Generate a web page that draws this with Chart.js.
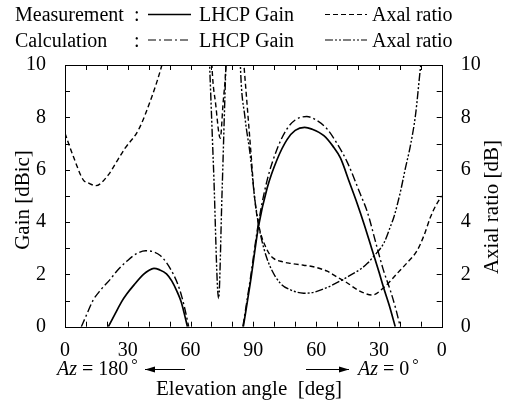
<!DOCTYPE html>
<html>
<head>
<meta charset="utf-8">
<script src="https://cdn.jsdelivr.net/npm/chart.js@4.4.0/dist/chart.umd.min.js"></script>
<style>
  html, body { margin: 0; padding: 0; background: #fff; }
  canvas { display: block; }
</style>
</head>
<body>
<canvas id="c" width="505" height="404"></canvas>
<script>
// x position runs 0..180 : elevation 0 -> 90 (Az = 180°) then 90 -> 0 (Az = 0°)
const xTickLabels = ['0', '30', '60', '90', '60', '30', '0'];
const yTickLabels = ['0', '2', '4', '6', '8', '10'];

// Measurement LHCP gain (solid)
const measGainPos = [20.7, 24, 27, 29.5, 33, 37.5, 40, 42.5, 45, 48.5, 51, 53.5, 55.5, 57, 58.5,
  70,
  85.2, 88.6, 92.5, 96.6, 101.4, 106.1, 110, 114.5, 118, 123.7, 128, 131.6, 136, 139.6, 143, 146.5, 150, 152.4, 155, 157.8];
const measGainVal = [0, 0.5, 0.95, 1.25, 1.6, 2.0, 2.15, 2.23, 2.18, 2.02, 1.75, 1.35, 0.95, 0.5, 0,
  null,
  0, 1.7, 3.85, 5.3, 6.4, 7.15, 7.5, 7.62, 7.55, 7.3, 6.9, 6.45, 5.5, 4.71, 3.9, 3.0, 2.1, 1.45, 0.8, 0];

// Measurement axial ratio (dashed)
const measARPos = [0, 4, 8.8, 11, 14.8, 20.7, 25, 28.7, 35.1, 41.5, 46.3, 47.5,
  60,
  69.8, 70.2, 72, 74.2, 75.5, 76.9, 77.3,
  80,
  85, 85.5, 88.6, 90.5, 92.5, 96.6, 99.7, 103, 107.7, 114, 118.1, 125.3, 130, 134, 140.4, 146.8, 152.4, 158.8, 163, 168.4, 171.6, 174.7, 177, 180];
const measARVal = [7.39, 6.5, 5.6, 5.5, 5.39, 5.8, 6.35, 6.82, 7.52, 8.79, 10, 10.4,
  null,
  11, 10, 8.5, 7.2, 8.5, 10, 11,
  null,
  10.5, 10, 6.9, 5.0, 3.9, 2.93, 2.61, 2.5, 2.42, 2.35, 2.3, 2.12, 1.9, 1.72, 1.38, 1.21, 1.5, 2.04, 2.4, 2.93, 3.5, 4.2, 4.6, 5.0];

// Calculation LHCP gain (dash-dot)
const calcGainPos = [7.8, 10, 13.5, 17, 21.5, 25, 29.5, 34, 38.5, 42, 45.5, 48.5, 51.8, 54, 55.8, 57.5, 59.1,
  70,
  85, 88.5, 92.5, 96.6, 101.4, 106, 110, 115.5, 120, 125.3, 130, 134.8, 141.2, 144.4, 149.2, 152, 155.6, 158, 160.2];
const calcGainVal = [0, 0.4, 1.02, 1.4, 1.8, 2.15, 2.5, 2.78, 2.9, 2.87, 2.72, 2.45, 2.0, 1.6, 1.15, 0.6, 0,
  null,
  0, 1.8, 4.0, 5.6, 6.8, 7.55, 7.9, 8.03, 7.9, 7.55, 7.0, 6.3, 5.05, 4.4, 3.0, 2.2, 1.35, 0.7, 0];

// Calculation axial ratio (dash-dot-dot)
const calcARPos = [68.6, 69.1, 71, 73.4, 75, 76.9, 77.4,
  80,
  83.5, 83.8, 86, 88.6, 90.5, 92.5, 95, 98, 102.9, 108, 114, 118, 125.3, 131.6, 136, 141.2, 144.5, 147.6, 152.4, 155.6, 157.2, 160.4, 162.5, 165, 167.5, 170, 170.5];
const calcARVal = [11, 10, 6, 1.08, 5, 10, 11,
  null,
  11, 10, 8, 6.5, 5.0, 3.9, 3.0, 2.3, 1.66, 1.4, 1.28, 1.3, 1.5, 1.75, 1.95, 2.2, 2.42, 2.7, 3.2, 3.85, 4.2, 5.2, 6.0, 6.9, 8.1, 10, 10.3];

const toPts = (xs, ys) => xs.map((x, i) => ({ x: x, y: ys[i] }));

const FONT = '"Liberation Serif", "Times New Roman", "DejaVu Serif", serif';
Chart.defaults.font.family = FONT;
Chart.defaults.color = '#000';

const frameAndText = {
  id: 'frameAndText',
  afterDraw(chart) {
    const ctx = chart.ctx;
    const a = chart.chartArea;
    const xs = chart.scales.x, ys = chart.scales.y, ys2 = chart.scales.y2;
    ctx.save();
    ctx.strokeStyle = '#000';
    ctx.lineWidth = 1;
    ctx.setLineDash([]);
    // frame
    ctx.strokeRect(Math.round(a.left) + 0.5, Math.round(a.top) + 0.5,
      Math.round(a.right) - Math.round(a.left), Math.round(a.bottom) - Math.round(a.top));
    // inward tick marks
    const tl = 5;
    ctx.beginPath();
    xs.ticks.forEach(t => {
      const px = Math.round(xs.getPixelForValue(t.value)) + 0.5;
      ctx.moveTo(px, a.bottom); ctx.lineTo(px, a.bottom - tl);
      ctx.moveTo(px, a.top); ctx.lineTo(px, a.top + tl);
    });
    ys.ticks.forEach(t => {
      const py = Math.round(ys.getPixelForValue(t.value)) + 0.5;
      ctx.moveTo(a.left, py); ctx.lineTo(a.left + tl, py);
    });
    ys2.ticks.forEach(t => {
      const py = Math.round(ys2.getPixelForValue(t.value)) + 0.5;
      ctx.moveTo(a.right, py); ctx.lineTo(a.right - tl, py);
    });
    ctx.stroke();

    // legend
    ctx.fillStyle = '#000';
    ctx.textBaseline = 'alphabetic';
    ctx.textAlign = 'left';
    ctx.font = '20px ' + FONT;
    const rows = [
      { y: 21, name: 'Measurement', g: [], a: [5, 3], gw: 1.5, aw: 1.2 },
      { y: 46.5, name: 'Calculation', g: [8, 3, 2, 3], a: [8, 2, 2, 2, 2, 2], gw: 1.2, aw: 1.2 }
    ];
    rows.forEach(r => {
      ctx.fillText(r.name, 15, r.y);
      ctx.fillText(':', 134, r.y);
      ctx.fillText('LHCP Gain', 199, r.y);
      ctx.fillText('Axal ratio', 372, r.y);
      const ly = r.y - 6.5;
      ctx.lineWidth = r.gw; ctx.setLineDash(r.g);
      ctx.beginPath(); ctx.moveTo(148, ly); ctx.lineTo(191, ly); ctx.stroke();
      ctx.lineWidth = r.aw; ctx.setLineDash(r.a);
      ctx.beginPath(); ctx.moveTo(325, ly); ctx.lineTo(367, ly); ctx.stroke();
    });
    ctx.setLineDash([]);
    ctx.lineWidth = 1;

    // axis titles
    ctx.font = '21px ' + FONT;
    ctx.textAlign = 'center';
    ctx.textBaseline = 'middle';
    ctx.save();
    ctx.translate(23, 200);
    ctx.rotate(-Math.PI / 2);
    ctx.fillText('Gain [dBic]', 0, 0);
    ctx.restore();
    ctx.save();
    ctx.translate(492, 207);
    ctx.rotate(-Math.PI / 2);
    ctx.fillText('Axial ratio [dB]', 0, 0);
    ctx.restore();

    ctx.textBaseline = 'alphabetic';
    ctx.textAlign = 'left';
    ctx.fillText('Elevation angle  [deg]', 156, 395);

    // Az annotations
    const azText = (x, y, num) => {
      ctx.font = 'italic 20px ' + FONT;
      ctx.fillText('Az', x, y);
      let w = ctx.measureText('Az').width;
      ctx.font = '20px ' + FONT;
      const s = ' = ' + num;
      ctx.fillText(s, x + w, y);
      w += ctx.measureText(s).width;
      ctx.font = '16px ' + FONT;
      ctx.fillText('°', x + w + 3, y - 5);
    };
    azText(57, 375, '180');
    azText(358, 375, '0');

    const arrow = (x1, x2, y) => {
      ctx.beginPath(); ctx.moveTo(x1, y); ctx.lineTo(x2, y); ctx.stroke();
      const dir = x2 > x1 ? 1 : -1;
      ctx.beginPath();
      ctx.moveTo(x2, y);
      ctx.lineTo(x2 - dir * 10, y - 3);
      ctx.lineTo(x2 - dir * 10, y + 3);
      ctx.closePath(); ctx.fill();
    };
    arrow(185, 145, 369.5);
    arrow(306, 349, 369.5);
    ctx.restore();
  }
};

const common = { pointRadius: 0, borderColor: '#000', fill: false, spanGaps: false,
  cubicInterpolationMode: 'monotone' };

new Chart(document.getElementById('c'), {
  type: 'line',
  data: {
    datasets: [
      Object.assign({ label: 'Measurement LHCP Gain', data: toPts(measGainPos, measGainVal), yAxisID: 'y',
        borderWidth: 1.7 }, common),
      Object.assign({ label: 'Measurement Axal ratio', data: toPts(measARPos, measARVal), yAxisID: 'y2',
        borderWidth: 1.4, borderDash: [5, 3] }, common),
      Object.assign({ label: 'Calculation LHCP Gain', data: toPts(calcGainPos, calcGainVal), yAxisID: 'y',
        borderWidth: 1.4, borderDash: [8, 3, 2, 3] }, common),
      Object.assign({ label: 'Calculation Axal ratio', data: toPts(calcARPos, calcARVal), yAxisID: 'y2',
        borderWidth: 1.4, borderDash: [8, 2, 2, 2, 2, 2] }, common)
    ]
  },
  options: {
    responsive: false,
    animation: false,
    layout: { padding: { top: 65, left: 0, right: 0, bottom: 0 } },
    plugins: { legend: { display: false }, tooltip: { enabled: false }, title: { display: false } },
    scales: {
      x: {
        type: 'linear', min: 0, max: 180,
        grid: { display: false }, border: { display: false },
        ticks: {
          stepSize: 10, autoSkip: false, maxRotation: 0, padding: 4,
          font: { size: 20, family: FONT }, color: '#000',
          callback: v => (v % 30 === 0 ? xTickLabels[v / 30] : '')
        },
        afterFit: s => { s.height = 404 - 326.7; }
      },
      y: {
        type: 'linear', position: 'left', min: 0, max: 10,
        grid: { display: false }, border: { display: false },
        ticks: {
          stepSize: 1, autoSkip: false, padding: 11,
          font: { size: 20, family: FONT }, color: '#000',
          callback: v => (v % 2 === 0 ? yTickLabels[v / 2] : '')
        },
        afterFit: s => { s.width = 65; }
      },
      y2: {
        type: 'linear', position: 'right', min: 0, max: 10,
        grid: { display: false }, border: { display: false },
        ticks: {
          stepSize: 1, autoSkip: false, padding: 11,
          font: { size: 20, family: FONT }, color: '#000',
          callback: v => (v % 2 === 0 ? yTickLabels[v / 2] : '')
        },
        afterFit: s => { s.width = 505 - 441.7; }
      }
    }
  },
  plugins: [frameAndText]
});
</script>
</body>
</html>
